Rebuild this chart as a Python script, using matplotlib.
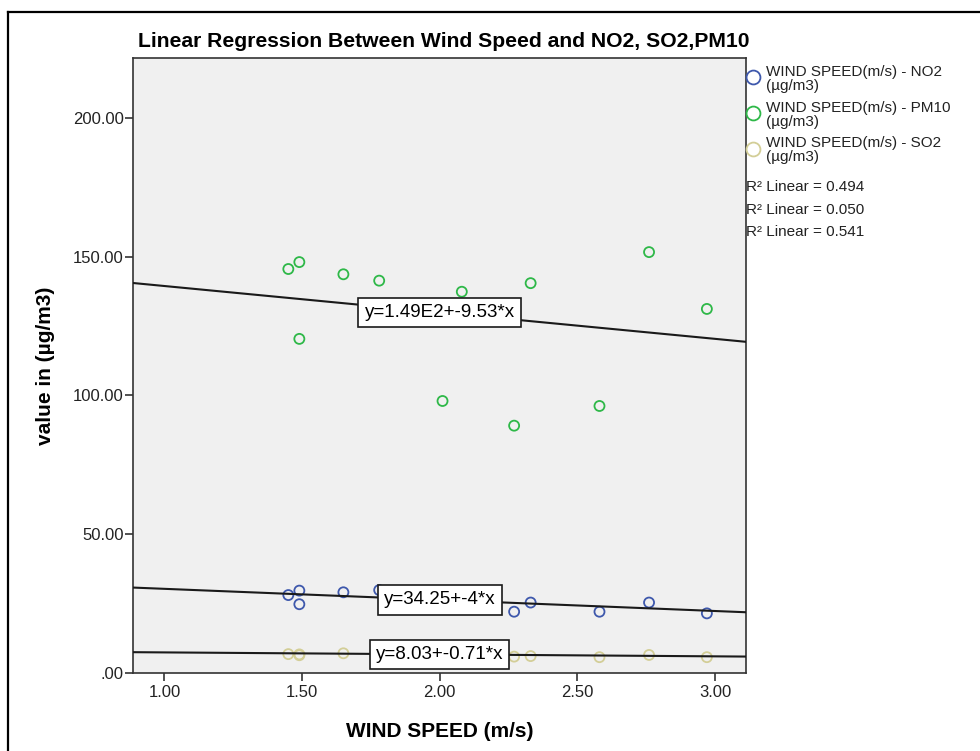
import matplotlib
matplotlib.use('Agg')
import matplotlib.pyplot as plt
from matplotlib.lines import Line2D
from matplotlib.ticker import FuncFormatter
import numpy as np

plt.rcParams['font.family'] = ['Liberation Sans', 'DejaVu Sans']

# wind speed (m/s) per observation
wind = [1.45, 1.49, 1.49, 1.65, 1.78, 2.01, 2.08, 2.27, 2.33, 2.58, 2.76, 2.97]
# pollutant values (ug/m3)
pm10 = [145.6, 148.1, 120.4, 143.7, 141.4, 98.0, 137.4, 89.1, 140.5, 96.2, 151.7, 131.2]
no2 = [28.0, 29.6, 24.7, 29.0, 29.8, 27.2, 26.7, 22.0, 25.3, 22.0, 25.3, 21.4]
so2 = [6.7, 6.6, 6.3, 7.0, 7.2, 7.0, 6.8, 5.8, 6.0, 5.6, 6.4, 5.6]

# fit lines as printed on the chart: intercept, slope
fit_names = ['PM10', 'NO2', 'SO2']
fit_b0 = [149.0, 34.25, 8.03]
fit_b1 = [-9.53, -4.0, -0.71]
fit_labels = ['y=1.49E2+-9.53*x', 'y=34.25+-4*x', 'y=8.03+-0.71*x']

legend_labels = ['WIND SPEED(m/s) - NO2\n(\u00b5g/m3)',
                 'WIND SPEED(m/s) - PM10\n(\u00b5g/m3)',
                 'WIND SPEED(m/s) - SO2\n(\u00b5g/m3)']
r2_labels = ['R\u00b2 Linear = 0.494', 'R\u00b2 Linear = 0.050', 'R\u00b2 Linear = 0.541']

c_no2 = '#3E58AC'
c_pm10 = '#2EB848'
c_so2 = '#D3CE97'

W, H = 980, 751
fig = plt.figure(figsize=(W / 100, H / 100), dpi=100)
ax = fig.add_axes([133.3 / W, 1 - 672.7 / H, (745.7 - 133.3) / W, (672.7 - 58.3) / H])
ax.set_facecolor('#f0f0f0')

xlim = (0.887, 3.111)
ax.set_xlim(*xlim)
ax.set_ylim(0, 221.6)

for ys, col in [(so2, c_so2), (no2, c_no2), (pm10, c_pm10)]:
    ax.scatter(wind, ys, s=52, facecolors='none', edgecolors=col, linewidths=1.3, zorder=3)

xs = np.array(xlim)
xmid = (xlim[0] + xlim[1]) / 2
for b0, b1, lab in zip(fit_b0, fit_b1, fit_labels):
    ax.plot(xs, b0 + b1 * xs, color='#1a1a1a', lw=1.5, zorder=4)
    ax.text(xmid, b0 + b1 * xmid, lab, ha='center', va='center', fontsize=13.5, zorder=5,
            bbox=dict(boxstyle='square,pad=0.33', fc='white', ec='#1a1a1a', lw=1.2))

ax.set_xticks([1.0, 1.5, 2.0, 2.5, 3.0])
ax.set_yticks([0, 50, 100, 150, 200])
ax.xaxis.set_major_formatter(FuncFormatter(lambda v, p: f'{v:.2f}'))
ax.yaxis.set_major_formatter(FuncFormatter(lambda v, p: f'{v:.2f}'.lstrip('0') if v == 0 else f'{v:.2f}'))
ax.tick_params(axis='both', labelsize=12, length=6, width=1.2, color='#333333', labelcolor='#222222')
ax.tick_params(axis='y', pad=1)
ax.tick_params(axis='x', pad=3)
for s in ax.spines.values():
    s.set_color('#333333')
    s.set_linewidth(1.2)

ax.set_xlabel('WIND SPEED (m/s)', fontsize=15, fontweight='bold', labelpad=16)
ax.set_ylabel('value in (\u00b5g/m3)', fontsize=15, fontweight='bold', labelpad=13)

fig.text(444 / W, 1 - 47 / H, 'Linear Regression Between Wind Speed and NO2, SO2,PM10',
         ha='center', va='baseline', fontsize=15.2, fontweight='bold')

# legend drawn by hand on the right side
for i, (lab, col) in enumerate(zip(legend_labels, [c_no2, c_pm10, c_so2])):
    ym = [76.7, 113.0, 148.5][i]
    fig.add_artist(Line2D([753 / W], [1 - ym / H], marker='o', markersize=10, mfc='none',
                          mec=col, mew=1.3, ls='none', transform=fig.transFigure))
    fig.text(766 / W, 1 - (ym + 2) / H, lab, ha='left', va='center', fontsize=11,
             linespacing=1.0, color='#222222')
for i, lab in enumerate(r2_labels):
    yc = [186.7, 209.5, 232.5][i]
    fig.text(746 / W, 1 - yc / H, lab, ha='left', va='center', fontsize=11, color='#222222')

# outer frame
fig.add_artist(Line2D([8.3 / W, 1.0], [1 - 12.3 / H, 1 - 12.3 / H], color='black', lw=1.6,
                      transform=fig.transFigure))
fig.add_artist(Line2D([8.3 / W, 8.3 / W], [0, 1 - 12.3 / H], color='black', lw=1.6,
                      transform=fig.transFigure))

fig.savefig('out.png', dpi=100)
